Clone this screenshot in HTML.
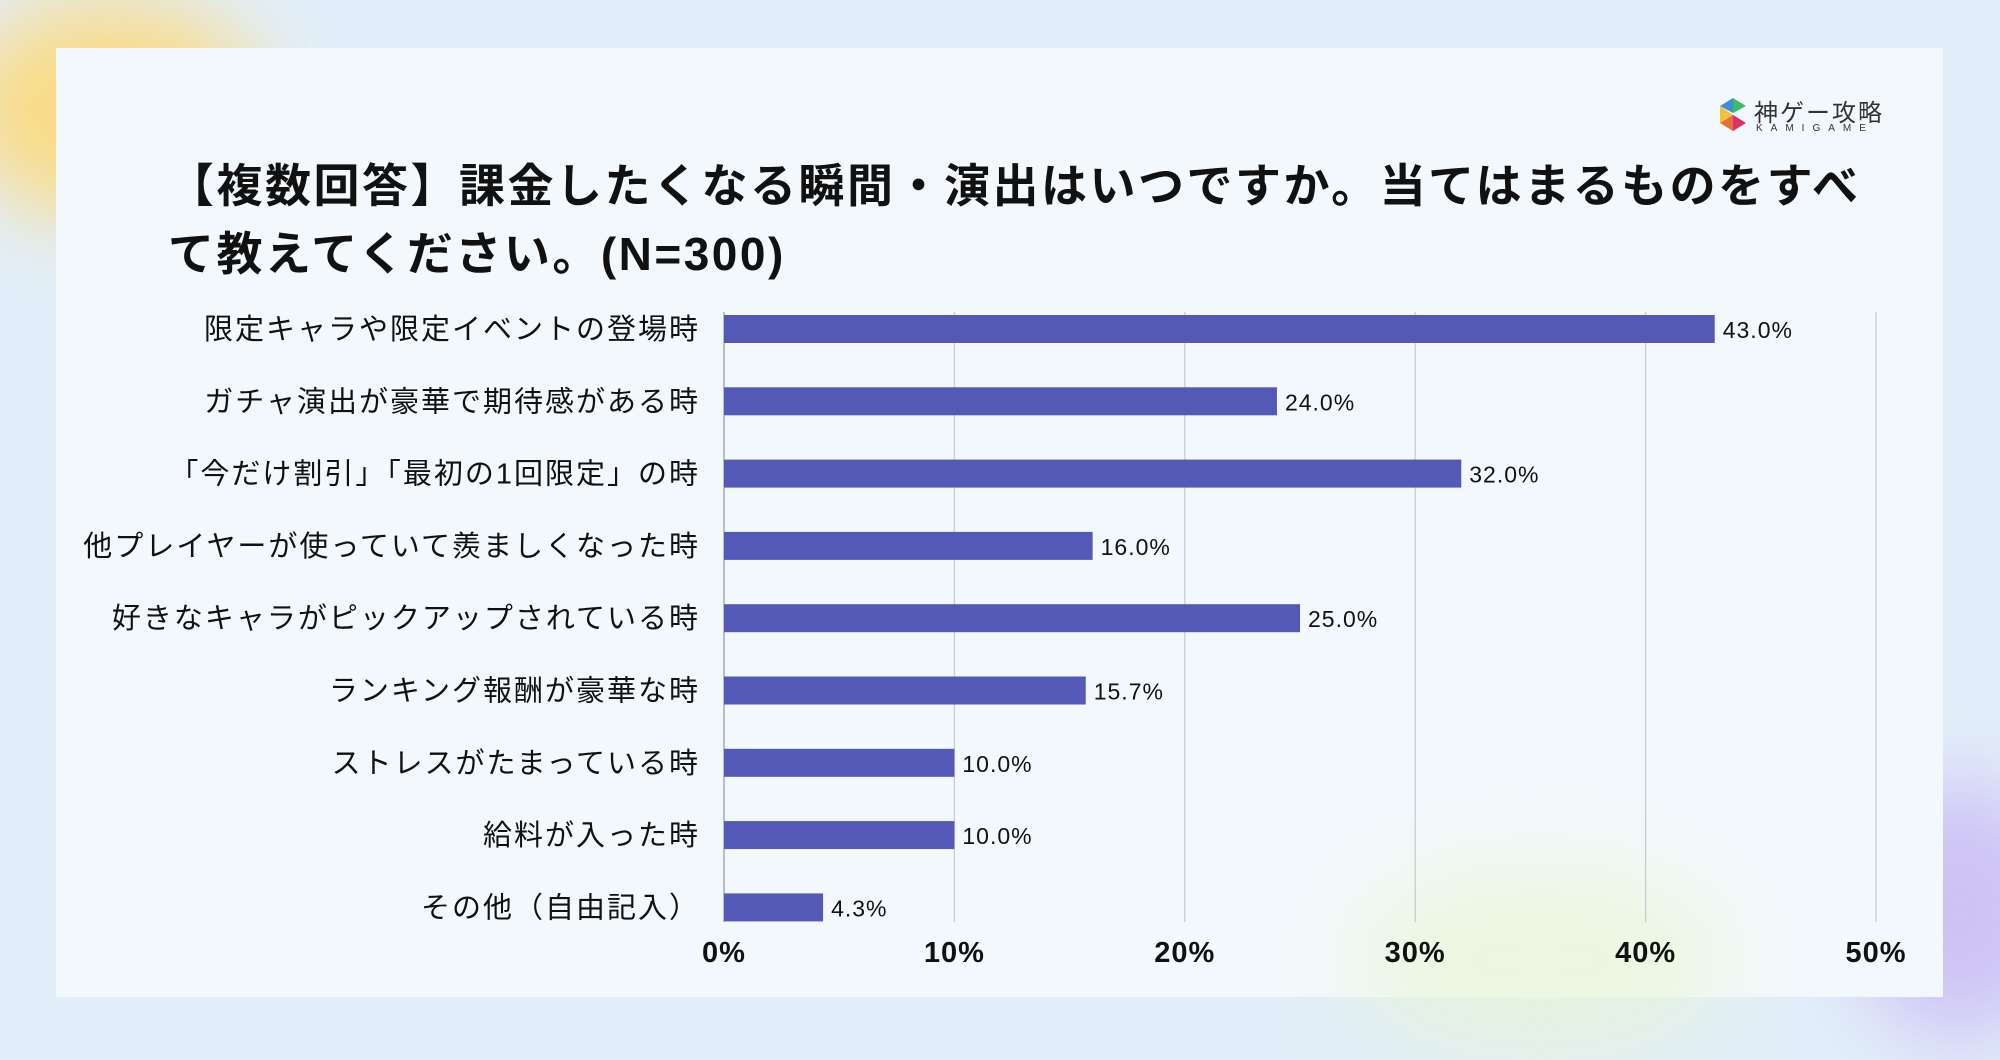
<!DOCTYPE html>
<html><head><meta charset="utf-8"><style>
html,body{margin:0;padding:0}
body{width:2000px;height:1047px;overflow:hidden;background:#e2eef9;position:relative;font-family:"Liberation Sans","Noto Sans CJK JP",sans-serif}
.blob{position:absolute;border-radius:50%;filter:blur(40px)}
#card{position:absolute;left:56px;top:48px;width:1887px;height:949px;background:#f3f8fc}
#title{position:absolute;left:168px;top:152px;white-space:nowrap;font-size:46px;font-weight:bold;color:#111;line-height:68px;letter-spacing:2.5px}
svg{position:absolute;left:0;top:0}
</style></head><body>
<div class="blob" style="left:-40px;top:0;width:300px;height:220px;background:#ffd76a;opacity:.8"></div>
<div class="blob" style="left:1850px;top:780px;width:220px;height:260px;background:#c9b8f5;opacity:.8"></div>
<div id="card"></div>
<div class="blob" style="left:1350px;top:860px;width:380px;height:200px;background:#e7f6d0;opacity:.6"></div>
<div id="title">【複数回答】課金したくなる瞬間・演出はいつですか。当てはまるものをすべ<br>て教えてください。(N=300)</div>
<div style="position:absolute;left:1716px;top:96px;width:190px;height:40px;white-space:nowrap">
<svg width="34" height="38" viewBox="0 0 34 38"><polygon points="17,2 4,10 17,17" fill="#3d8fd8"/><polygon points="17,2 30,10 17,17" fill="#3dba6a"/><polygon points="4,10 4,27 17,19" fill="#f2c23a"/><polygon points="4,27 17,35 17,19" fill="#e8703a"/><polygon points="17,35 30,27 17,19" fill="#d6336c"/></svg>
<div style="position:absolute;left:38px;top:-3px;font-size:24px;color:#333;letter-spacing:2px">神ゲー攻略</div>
<div style="position:absolute;left:40px;top:27px;font-size:10px;color:#333;letter-spacing:8px">KAMIGAME</div>
</div>
<svg id="chart" width="2000" height="1047"></svg>
<script>
const categories=["限定キャラや限定イベントの登場時","ガチャ演出が豪華で期待感がある時","「今だけ割引」「最初の1回限定」の時","他プレイヤーが使っていて羨ましくなった時","好きなキャラがピックアップされている時","ランキング報酬が豪華な時","ストレスがたまっている時","給料が入った時","その他（自由記入）"];
const values=[43.0,24.0,32.0,16.0,25.0,15.7,10.0,10.0,4.3];
const ticks=[0,10,20,30,40,50];
const NS="http://www.w3.org/2000/svg";
const svg=document.getElementById('chart');
const x0=724,x1=1876,xmax=50,y0=329,step=72.3,bh=28,gTop=312,gBot=922;
const xs=v=>x0+(v/xmax)*(x1-x0);
const ys=i=>y0+i*step;
const FF='"Liberation Sans","Noto Sans CJK JP",sans-serif';
function mk(t,a){const e=document.createElementNS(NS,t);for(const k in a)e.setAttribute(k,a[k]);svg.appendChild(e);return e;}
ticks.forEach(t=>{
 const l=mk('line',{x1:xs(t),x2:xs(t),y1:gTop,y2:gBot,stroke:t===0?'#9aa0a8':'#c8ccd2','stroke-width':1.3});
 
 
 const tx=mk('text',{x:xs(t),y:962,'text-anchor':'middle','font-size':29,'font-weight':'bold',fill:'#111','font-family':FF,'letter-spacing':1});
 tx.textContent=t+'%';
 
 
});
categories.forEach((c,i)=>{
 const y=ys(i);
 const r=mk('rect',{x:x0,y:y-bh/2,width:xs(values[i])-x0,height:bh,fill:'#5459b8'});
 
 
 const lb=mk('text',{x:700,y:y+10,'text-anchor':'end','font-size':29,fill:'#111','font-family':FF,'letter-spacing':2});
 lb.textContent=c;
 
 
 const v=mk('text',{x:xs(values[i])+8,y:y+9,'font-size':23,fill:'#111','font-family':FF,'letter-spacing':1});
 v.textContent=values[i].toFixed(1)+'%';
 
 
});
</script>
</body></html>
